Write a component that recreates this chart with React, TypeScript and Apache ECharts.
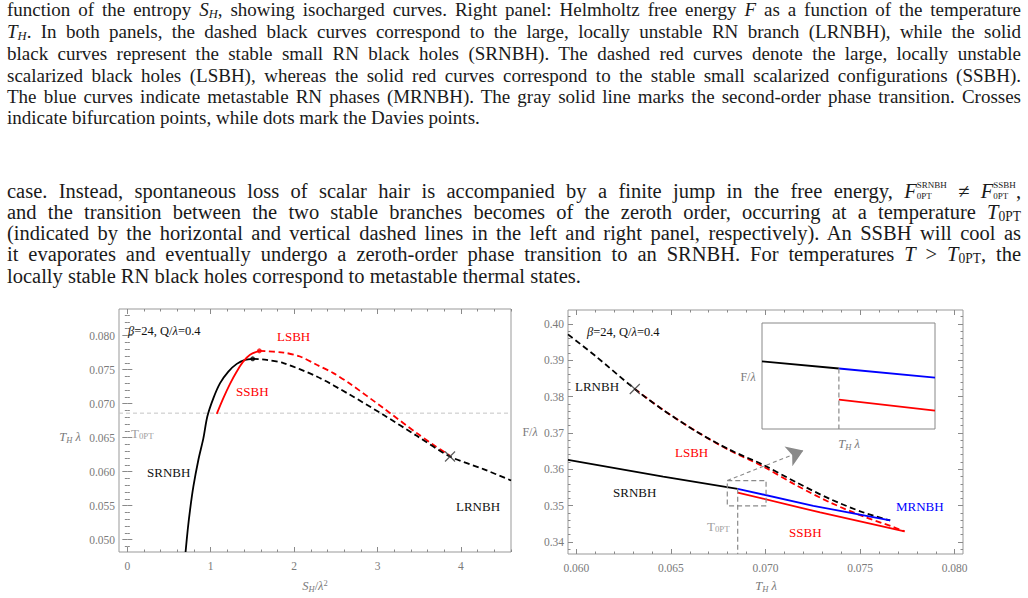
import React, { useEffect, useRef } from 'react';
import * as echarts from 'echarts';

const FONT = "'Liberation Serif', 'DejaVu Serif', serif";
const RED = '#ff0000';
const BLUE = '#0000ff';
const BLACK = '#000000';
const GRAY = '#8a8a8a';
const LABEL_GRAY = '#7a7a7a';

// ---------- Left panel: T_H λ versus S_H/λ² ----------
const leftSRNBH = [
  [0.698, 0.0482], [0.724, 0.05147], [0.752, 0.0544], [0.792, 0.05783], [0.852, 0.06175],
  [0.912, 0.06493], [0.959, 0.06811], [1.032, 0.07081], [1.112, 0.07301], [1.211, 0.07471],
  [1.312, 0.07584], [1.411, 0.07643], [1.503, 0.07658],
];
const leftLRNBH = [
  [1.503, 0.07658], [1.671, 0.07643], [1.871, 0.07595], [2.271, 0.07398], [2.670, 0.07129],
  [3.070, 0.06835], [3.470, 0.06527], [3.869, 0.06223], [4.269, 0.06038], [4.601, 0.05871],
];
const leftSSBH = [
  [1.072, 0.0685], [1.151, 0.07081], [1.231, 0.07291], [1.312, 0.07471], [1.384, 0.07609],
  [1.471, 0.07717], [1.583, 0.07775],
];
const leftLSBH = [
  [1.583, 0.07775], [1.871, 0.0775], [2.071, 0.07692], [2.271, 0.0757], [2.470, 0.07448],
  [2.670, 0.07291], [3.070, 0.06934], [3.470, 0.06567], [3.669, 0.06395], [3.869, 0.06233],
];
const leftT0PT = 0.0686;
const leftDaviesBlack = [[1.503, 0.07658]];
const leftDaviesRed = [[1.583, 0.07775]];
const leftCross = [[3.869, 0.06223]];
const leftXMajor = [0, 1, 2, 3, 4];
const leftYMajor = [0.05, 0.055, 0.06, 0.065, 0.07, 0.075, 0.08];

// ---------- Right panel: F/λ versus T_H λ ----------
const rightLRNBH = [
  [0.05956, 0.39709], [0.06106, 0.39094], [0.06309, 0.38208], [0.06459, 0.37631], [0.06636, 0.37035],
  [0.06812, 0.36533], [0.06988, 0.36121], [0.07165, 0.35635], [0.07342, 0.3518], [0.07518, 0.34812],
  [0.07659, 0.34592],
];
const rightLSBH = [
  [0.06309, 0.38208], [0.06459, 0.37631], [0.06636, 0.37035], [0.06812, 0.36514], [0.06988, 0.36075],
  [0.07165, 0.35553], [0.07342, 0.35087], [0.07518, 0.34702], [0.07677, 0.34411], [0.07735, 0.3429],
];
const rightSRNBH = [[0.05956, 0.36258], [0.06459, 0.358], [0.06853, 0.35462]];
const rightMRNBH = [[0.06853, 0.35462], [0.07253, 0.34996], [0.07659, 0.34592]];
const rightSSBH = [[0.06853, 0.35361], [0.07289, 0.34812], [0.07735, 0.3429]];
const rightT0PT = 0.06853;
const rightZoomBox = [[0.06798, 0.3569], [0.07003, 0.3569], [0.07003, 0.34996], [0.06798, 0.34996], [0.06798, 0.3569]];
const rightArrow = [[0.06798, 0.3569], [0.072, 0.36514]];
const rightCross = [[0.06309, 0.38208]];
const rightXMajor = [0.06, 0.065, 0.07, 0.075, 0.08];
const rightYMajor = [0.34, 0.35, 0.36, 0.37, 0.38, 0.39, 0.4];

// ---------- Inset (zoom of the box) ----------
const insetSRNBH = [[0.06829, 0.35487], [0.06853, 0.35464]];
const insetMRNBH = [[0.06853, 0.35464], [0.06883, 0.35435]];
const insetSSBH = [[0.06853, 0.35364], [0.06883, 0.35329]];

function minorTicks(min: number, max: number, step: number, majors: number[]) {
  const out: number[] = [];
  const start = Math.ceil(min / step - 1e-9);
  for (let k = start; k * step <= max + 1e-12; k++) {
    const v = +(k * step).toFixed(6);
    if (!majors.some((m) => Math.abs(m - v) < step / 10)) out.push(v);
  }
  return out;
}

function axisSet(kind: 'x' | 'y', grid: number, min: number, max: number, majors: number[], minorStep: number, fmt: (v: number) => string, margin: number) {
  const pos = kind === 'x' ? ['bottom', 'top'] : ['left', 'right'];
  const minors = minorTicks(min, max, minorStep, majors);
  const base: any = { type: 'value', gridIndex: grid, min, max, axisLine: { show: false }, splitLine: { show: false } };
  const tick = (vals: number[], len: number) => ({ show: true, inside: true, length: len, customValues: vals, lineStyle: { color: GRAY, width: 1 } });
  return [
    { ...base, position: pos[0], axisTick: tick(majors, 5), axisLabel: { show: true, customValues: majors, formatter: fmt, color: LABEL_GRAY, fontFamily: FONT, fontSize: 11.5, margin } },
    { ...base, position: pos[0], axisTick: tick(minors, 2.5), axisLabel: { show: false } },
    { ...base, position: pos[1], axisTick: tick(majors, 5), axisLabel: { show: false } },
    { ...base, position: pos[1], axisTick: tick(minors, 2.5), axisLabel: { show: false } },
  ];
}

const lineS = (x: number, data: number[][], color: string, dashed: boolean, width = 1.8, smooth: number | boolean = 0.3) => ({
  type: 'line', xAxisIndex: x, yAxisIndex: x, data, showSymbol: false, symbol: 'none', smooth,
  lineStyle: { color, width, type: dashed ? [6, 3.5] : 'solid' }, silent: true,
});

const crossS = (x: number, data: number[][]) => ({
  type: 'scatter', xAxisIndex: x, yAxisIndex: x, data, symbol: 'path://M0 0L10 10M10 0L0 10', symbolSize: 10,
  itemStyle: { color: 'rgba(0,0,0,0)', borderColor: '#333', borderWidth: 1.2 }, silent: true, z: 5,
});

const dotS = (x: number, data: number[][], color: string) => ({
  type: 'scatter', xAxisIndex: x, yAxisIndex: x, data, symbol: 'circle', symbolSize: 5, itemStyle: { color }, silent: true, z: 5,
});

const txt = (x: number, y: number, text: string, color: string, size = 13, align = 'left', rich: any = undefined) => ({
  type: 'text', x, y, silent: true, z: 20,
  style: { text, fill: color, fontFamily: FONT, fontSize: size, align, verticalAlign: 'middle', rich },
});

const mathRich = (color: string, size: number) => ({
  i: { fontStyle: 'italic', fontFamily: FONT, fontSize: size, fill: color, color },
  n: { fontFamily: FONT, fontSize: size, fill: color, color },
  s: { fontFamily: FONT, fontSize: size * 0.68, fill: color, color, padding: [size * 0.45, 0, 0, 0] },
  si: { fontStyle: 'italic', fontFamily: FONT, fontSize: size * 0.68, fill: color, color, padding: [size * 0.45, 0, 0, 0] },
  p: { fontFamily: FONT, fontSize: size * 0.68, fill: color, color, padding: [0, 0, size * 0.45, 0] },
});

function buildOption() {
  const xAxis = [
    ...axisSet('x', 0, -0.1, 4.6, leftXMajor, 0.2, (v) => String(Math.round(v)), 8),
    ...axisSet('x', 1, 0.05956, 0.08044, rightXMajor, 0.001, (v) => v.toFixed(3), 8),
    { type: 'value', gridIndex: 2, min: 0.06829, max: 0.06883, show: false },
  ];
  const yAxis = [
    ...axisSet('y', 0, 0.0482, 0.0839, leftYMajor, 0.001, (v) => v.toFixed(3), 4),
    ...axisSet('y', 1, 0.3367, 0.4038, rightYMajor, 0.002, (v) => v.toFixed(2), 4),
    { type: 'value', gridIndex: 2, min: 0.3527, max: 0.3561, show: false },
  ];
  const grid = [
    { left: 119, top: 309, width: 392, height: 243, show: true, borderColor: '#999', borderWidth: 1, backgroundColor: 'transparent' },
    { left: 568, top: 310, width: 395, height: 244, show: true, borderColor: '#999', borderWidth: 1, backgroundColor: 'transparent' },
    { left: 762, top: 323, width: 173, height: 106, show: true, borderColor: '#888', borderWidth: 1, backgroundColor: '#fff', z: 10 },
  ];
  const series: any[] = [
    // left
    { ...lineS(0, [[-0.1, leftT0PT], [4.6, leftT0PT]], '#c4c4c4', true, 1, false), lineStyle: { color: '#c4c4c4', width: 1, type: [4, 3] } },
    lineS(0, leftSRNBH, BLACK, false),
    lineS(0, leftLSBH, RED, true),
    lineS(0, leftLRNBH, BLACK, true),
    lineS(0, leftSSBH, RED, false),
    dotS(0, leftDaviesBlack, BLACK),
    dotS(0, leftDaviesRed, RED),
    crossS(0, leftCross),
    // right
    lineS(4, rightSRNBH, BLACK, false, 1.8, false),
    lineS(4, rightLSBH, RED, true),
    lineS(4, rightLRNBH, BLACK, true),
    lineS(4, rightMRNBH, BLUE, false, 1.8, false),
    lineS(4, rightSSBH, RED, false, 1.8, false),
    { ...lineS(4, [[rightT0PT, 0.35462], [rightT0PT, 0.3367]], GRAY, true, 1.2, false), lineStyle: { color: GRAY, width: 1.2, type: [5, 3] } },
    { ...lineS(4, rightZoomBox, GRAY, true, 1.2, false), lineStyle: { color: GRAY, width: 1.2, type: [5, 3] } },
    {
      type: 'lines', coordinateSystem: 'cartesian2d', xAxisIndex: 4, yAxisIndex: 4, silent: true,
      data: [{ coords: rightArrow }], symbol: ['none', 'arrow'], symbolSize: [0, 16],
      lineStyle: { color: GRAY, width: 1.1, type: [4, 3], opacity: 1 },
    },
    crossS(4, rightCross),
    // inset
    { ...lineS(8, insetSRNBH, BLACK, false, 1.8, false), z: 12 },
    { ...lineS(8, insetMRNBH, BLUE, false, 1.8, false), z: 12 },
    { ...lineS(8, insetSSBH, RED, false, 1.8, false), z: 12 },
    { ...lineS(8, [[rightT0PT, 0.35464], [rightT0PT, 0.3527]], GRAY, true, 1.2, false), lineStyle: { color: GRAY, width: 1.2, type: [5, 3] }, z: 12 },
  ];

  const g: any[] = [
    // left panel texts
    txt(128, 331, '{i|β}{n|=24, Q/}{i|λ}{n|=0.4}', '#111', 12.5, 'left', mathRich('#111', 12.5)),
    txt(277, 336, 'LSBH', RED, 13),
    txt(236, 391, 'SSBH', RED, 13),
    txt(131, 433, '{n|T}{s|0PT}', '#a0a0a0', 13, 'left', mathRich('#a0a0a0', 13)),
    txt(147, 472, 'SRNBH', '#111', 13),
    txt(456, 506, 'LRNBH', '#111', 13),
    txt(70, 437, '{i|T}{si|H}{i| λ}', LABEL_GRAY, 12.5, 'center', mathRich(LABEL_GRAY, 12.5)),
    txt(315, 586, '{i|S}{si|H}{n|/}{i|λ}{p|2}', LABEL_GRAY, 12.5, 'center', mathRich(LABEL_GRAY, 12.5)),
    // right panel texts
    txt(587, 332, '{i|β}{n|=24, Q/}{i|λ}{n|=0.4}', '#111', 12.5, 'left', mathRich('#111', 12.5)),
    txt(575, 386, 'LRNBH', '#111', 13),
    txt(675, 452, 'LSBH', RED, 13),
    txt(613, 492, 'SRNBH', '#111', 13),
    txt(896, 506, 'MRNBH', BLUE, 13),
    txt(707, 526, '{n|T}{s|0PT}', '#a0a0a0', 13, 'left', mathRich('#a0a0a0', 13)),
    txt(789, 532, 'SSBH', RED, 13),
    txt(530, 432, '{n|F/}{i|λ}', LABEL_GRAY, 12, 'center', mathRich(LABEL_GRAY, 12)),
    txt(766, 586, '{i|T}{si|H}{i| λ}', LABEL_GRAY, 12.5, 'center', mathRich(LABEL_GRAY, 12.5)),
    txt(748, 377, '{n|F/}{i|λ}', LABEL_GRAY, 12, 'center', mathRich(LABEL_GRAY, 12)),
    txt(849, 444, '{i|T}{si|H}{i| λ}', LABEL_GRAY, 12.5, 'center', mathRich(LABEL_GRAY, 12.5)),
  ];

  return { animation: false, backgroundColor: '#fff', textStyle: { fontFamily: FONT }, grid, xAxis, yAxis, series, graphic: g };
}

const cap: React.CSSProperties = {
  position: 'absolute', left: 7, width: 1014, fontFamily: FONT, fontSize: 19, lineHeight: '22px',
  whiteSpace: 'nowrap', color: '#1a1a1a', textAlign: 'justify', textAlignLast: 'justify' as any, zIndex: 2,
};
const capLast: React.CSSProperties = { ...cap, textAlign: 'left', textAlignLast: 'left' as any };
const body: React.CSSProperties = { ...cap, fontSize: 20.5, lineHeight: '21px' };
const bodyLast: React.CSSProperties = { ...body, textAlign: 'left', textAlignLast: 'left' as any };
const sub: React.CSSProperties = { fontSize: '0.66em', verticalAlign: '-0.15em', lineHeight: 0 };

const Stack = ({ top, bottom }: { top: string; bottom: string }) => (
  <span style={{ display: 'inline-block', verticalAlign: '-1px', lineHeight: '10.5px', fontSize: '9px', textAlign: 'left' }}>
    <span style={{ display: 'block' }}>{top}</span>
    <span style={{ display: 'block' }}>{bottom}</span>
  </span>
);

function Text() {
  return (
    <>
      <div style={{ ...cap, top: -1 }}>function of the entropy <i>S</i><span style={sub}><i>H</i></span>, showing isocharged curves. Right panel: Helmholtz free energy <i>F</i> as a function of the temperature</div>
      <div style={{ ...cap, top: 21 }}><i>T</i><span style={sub}><i>H</i></span>. In both panels, the dashed black curves correspond to the large, locally unstable RN branch (LRNBH), while the solid</div>
      <div style={{ ...cap, top: 43 }}>black curves represent the stable small RN black holes (SRNBH). The dashed red curves denote the large, locally unstable</div>
      <div style={{ ...cap, top: 65 }}>scalarized black holes (LSBH), whereas the solid red curves correspond to the stable small scalarized configurations (SSBH).</div>
      <div style={{ ...cap, top: 86 }}>The blue curves indicate metastable RN phases (MRNBH). The gray solid line marks the second-order phase transition. Crosses</div>
      <div style={{ ...capLast, top: 107 }}>indicate bifurcation points, while dots mark the Davies points.</div>

      <div style={{ ...body, top: 180 }}>case. Instead, spontaneous loss of scalar hair is accompanied by a finite jump in the free energy, <i>F</i><Stack top="SRNBH" bottom="0PT" /> ≠ <i>F</i><Stack top="SSBH" bottom="0PT" />,</div>
      <div style={{ ...body, top: 201.5 }}>and the transition between the two stable branches becomes of the zeroth order, occurring at a temperature <i>T</i><span style={sub}>0PT</span></div>
      <div style={{ ...body, top: 223 }}>(indicated by the horizontal and vertical dashed lines in the left and right panel, respectively). An SSBH will cool as</div>
      <div style={{ ...body, top: 244 }}>it evaporates and eventually undergo a zeroth-order phase transition to an SRNBH. For temperatures <i>T</i> &gt; <i>T</i><span style={sub}>0PT</span>, the</div>
      <div style={{ ...bodyLast, top: 265.5 }}>locally stable RN black holes correspond to metastable thermal states.</div>
    </>
  );
}

export default function App() {
  const ref = useRef<HTMLDivElement>(null);
  useEffect(() => {
    if (!ref.current) return;
    const chart = echarts.init(ref.current, undefined, { renderer: 'svg' });
    chart.setOption(buildOption() as any);
    return () => chart.dispose();
  }, []);
  return (
    <div style={{ position: 'fixed', left: 0, top: 0, width: 1028, height: 598, overflow: 'hidden', background: '#fff' }}>
      <div ref={ref} style={{ position: 'absolute', left: 0, top: 0, width: 1028, height: 598 }} />
      <Text />
    </div>
  );
}
